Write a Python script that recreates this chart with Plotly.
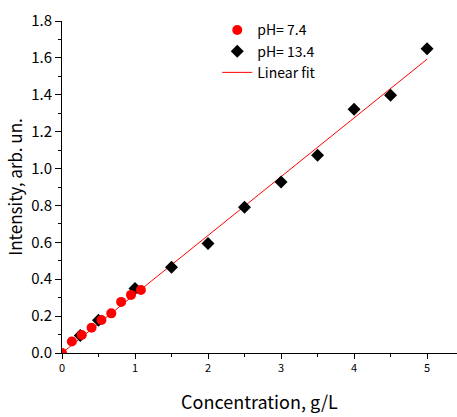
import plotly.graph_objects as go

# Measured intensities at pH 7.4 (low-concentration series)
conc_ph74 = [0.0, 0.135, 0.27, 0.405, 0.54, 0.675, 0.81, 0.945, 1.08]
int_ph74 = [0.0, 0.062, 0.098, 0.137, 0.179, 0.215, 0.277, 0.315, 0.342]

# Measured intensities at pH 13.4
conc_ph134 = [0.25, 0.5, 1.0, 1.5, 2.0, 2.5, 3.0, 3.5, 4.0, 4.5, 5.0]
int_ph134 = [0.095, 0.177, 0.350, 0.465, 0.593, 0.790, 0.927, 1.072, 1.321, 1.397, 1.650]

# Linear fit through both series
fit_x = [0.0, 5.0]
fit_y = [0.0, 1.593]

FONT = "Noto Sans CJK JP, Liberation Sans, sans-serif"

fig = go.Figure()
fig.add_trace(go.Scatter(
    x=fit_x, y=fit_y, mode="lines", name="Linear fit",
    line=dict(color="#ff0000", width=1), legendrank=3, legendgroup="c",
))
fig.add_trace(go.Scatter(
    x=conc_ph134, y=int_ph134, mode="markers", name="pH= 13.4",
    marker=dict(symbol="diamond", size=10, color="black"), legendrank=2, legendgroup="b",
))
fig.add_trace(go.Scatter(
    x=conc_ph74, y=int_ph74, mode="markers", name="pH= 7.4",
    marker=dict(symbol="circle", size=10, color="#ff0000"), legendrank=1, legendgroup="a",
))

fig.update_layout(
    width=457, height=417,
    margin=dict(l=62, r=0, t=21, b=64),
    paper_bgcolor="white", plot_bgcolor="white",
    font=dict(family=FONT, color="black"),
    showlegend=True,
    legend=dict(
        x=0.393, y=1.02, xanchor="left", yanchor="top",
        bgcolor="rgba(0,0,0,0)", font=dict(size=14, family=FONT),
        tracegroupgap=0, itemwidth=30,
    ),
    xaxis=dict(
        range=[0, 5.41], showgrid=False, zeroline=False,
        showline=True, linecolor="black", linewidth=1,
        ticks="outside", ticklen=5, tickwidth=1, tickcolor="black",
        tickvals=[0, 1, 2, 3, 4, 5], ticktext=["0", "1", "2", "3", "4", "5"],
        tickfont=dict(size=11, family=FONT),
        minor=dict(dtick=0.5, tick0=0, ticks="outside", ticklen=3, tickcolor="black"),
        title=dict(text="Concentration, g/L", font=dict(size=18, family=FONT), standoff=22),
    ),
    yaxis=dict(
        range=[0, 1.8], showgrid=False, zeroline=False,
        showline=True, linecolor="black", linewidth=1,
        ticks="outside", ticklen=6, tickwidth=1, tickcolor="black",
        tickvals=[0, 0.2, 0.4, 0.6, 0.8, 1.0, 1.2, 1.4, 1.6, 1.8],
        ticktext=["0.0", "0.2", "0.4", "0.6", "0.8", "1.0", "1.2", "1.4", "1.6", "1.8"],
        tickfont=dict(size=15, family=FONT),
        minor=dict(dtick=0.1, tick0=0, ticks="outside", ticklen=3, tickcolor="black"),
        title=dict(text="Intensity, arb. un.", font=dict(size=17, family=FONT), standoff=4),
    ),
)

fig.write_html("out.html")
